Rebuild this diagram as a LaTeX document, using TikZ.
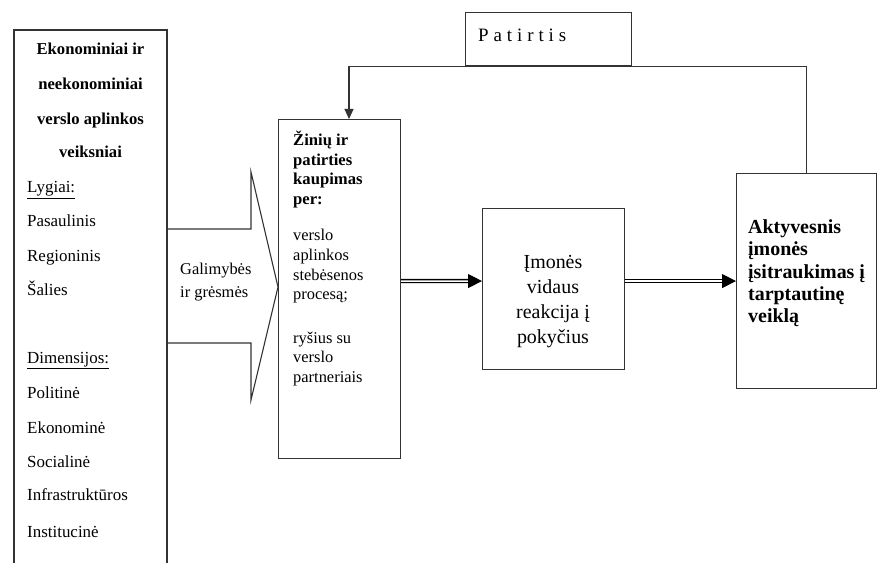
\documentclass[tikz,border=0pt]{standalone}
\usepackage{fontspec}
\setmainfont{Liberation Serif}
\usetikzlibrary{arrows.meta}
\begin{document}
\begin{tikzpicture}[x=1bp,y=-1bp,
  edge/.style={draw=black!80, line width=1.1bp},
  box/.style={draw=black!80, line width=1.1bp, anchor=north west, inner sep=0pt, fill=none},
  txt/.style={inner sep=0pt, font=\fontsize{16.5}{19}\selectfont},
  ltxt/.style={inner sep=0pt, font=\fontsize{17}{19}\selectfont},
  btxt/.style={inner sep=0pt, font=\fontsize{16.7}{19}\selectfont\bfseries},
  big/.style={inner sep=0pt, font=\fontsize{20}{22}\selectfont},
  dbl/.style={draw=black, double=white, double distance=1.6bp, line width=1.3bp, -{Triangle[length=14bp,width=14bp]}},
  fbarrow/.style={edge, -{Triangle[length=10bp,width=9bp]}}]
\useasboundingbox (0,0) rectangle (877,563);
% left box (open at the bottom)
\draw[edge] (14,563) -- (14,30) -- (167,30) -- (167,563);
\foreach \n/\y/\t in {a/55/{Ekonominiai ir}, b/90/neekonominiai, c/125/{verslo aplinkos}, d/158/veiksniai}
  \node[btxt, anchor=base] (T\n) at (90.5,\y) {\t};
\foreach \n/\y/\t in {a/193/{\underline{Lygiai:}}, b/227/Pasaulinis, c/262/Regioninis, d/295/Šalies,
  e/363/{\underline{Dimensijos:}}, f/398/Politinė, g/433/Ekonominė, h/467/Socialinė, i/500/Infrastruktūros, j/537/Institucinė}
  \node[ltxt, anchor=base west] (L\n) at (27,\y) {\t};
% middle box
\node[box, minimum width=122bp, minimum height=339bp] (mid) at (278,119) {};
% big arrow
\draw[edge] (167,229) -- (251,229) -- (251,172) -- (278,287) -- (251,400) -- (251,343) -- (167,343);
\node[txt, anchor=base west] (G1) at (180,274) {Galimybės};
\node[txt, anchor=base west] (G2) at (180,297) {ir grėsmės};
\foreach \n/\y/\t in {a/146/{Žinių ir}, b/165.5/patirties, c/185/kaupimas, d/204.5/per:}
  \node[btxt, anchor=base west] (M\n) at (293,\y) {\t};
\foreach \n/\y/\t in {e/241/verslo, f/260.5/aplinkos, g/280/stebėsenos, h/299.5/procesą;, i/343/{ryšius su}, j/362.5/verslo, k/382/partneriais}
  \node[txt, anchor=base west] (M\n) at (293,\y) {\t};
% centre box
\node[box, minimum width=142bp, minimum height=161bp] (cen) at (482,208) {};
\foreach \n/\y/\t in {a/268/Įmonės, b/293/vidaus, c/318/{reakcija į}, d/343/pokyčius}
  \node[big, anchor=base] (C\n) at (553,\y) {\t};
% right box
\node[box, minimum width=139.5bp, minimum height=215bp] (right) at (736,173) {};
\foreach \n/\y/\t in {a/234/Aktyvesnis, b/256/įmonės, c/278/{įsitraukimas į}, d/300/tarptautinę, e/322/veiklą}
  \node[big, anchor=base west, font=\fontsize{20}{22}\selectfont\bfseries] (R\n) at (748,\y) {\t};
% Patirtis box
\node[box, minimum width=166bp, minimum height=53bp] (pat) at (465,12) {};
\node[inner sep=0pt, anchor=base west, font=\fontsize{19}{21}\selectfont] (patt) at (478,42) {\addfontfeature{LetterSpace=26}Patirtis};
% connectors
\coordinate (fb) at (349,119);
\draw[fbarrow] (right.north) -- (right.north |- pat.south) -- (fb |- pat.south) -- (fb);
\draw[dbl] ([yshift=8bp]mid.east) -- ([yshift=8bp]cen.west);
\draw[dbl] ([yshift=8bp]cen.east) -- ([yshift=8bp]cen.east -| right.west);
\end{tikzpicture}
\end{document}
